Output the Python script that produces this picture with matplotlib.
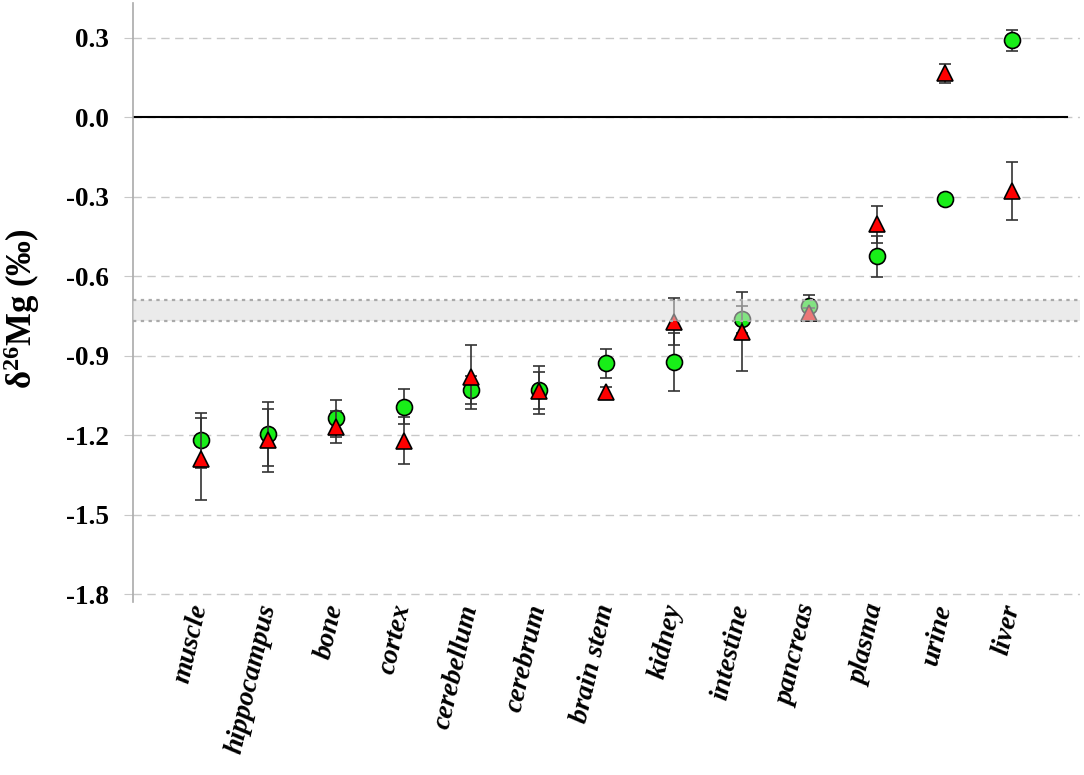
import matplotlib
matplotlib.use("Agg")
import matplotlib.pyplot as plt

plt.rcParams['font.family'] = ['Liberation Serif', 'DejaVu Serif']
plt.rcParams['mathtext.default'] = 'regular'

tissues = ['muscle', 'hippocampus', 'bone', 'cortex', 'cerebellum', 'cerebrum',
           'brain stem', 'kidney', 'intestine', 'pancreas', 'plasma', 'urine', 'liver']
green_vals = [-1.22, -1.195, -1.137, -1.093, -1.03, -1.03, -0.929, -0.923, -0.763, -0.713, -0.525, -0.309, 0.29]
green_err = [0.105, 0.12, 0.07, 0.065, 0.053, 0.09, 0.055, 0.11, 0.05, 0.04, 0.077, 0.01, 0.04]
red_vals = [-1.29, -1.22, -1.171, -1.221, -0.982, -1.033, -1.037, -0.772, -0.81, -0.741, -0.404, 0.165, -0.278]
red_err = [0.155, 0.12, 0.06, 0.09, 0.12, 0.07, 0.02, 0.09, 0.15, 0.02, 0.07, 0.035, 0.11]
band = (-0.77, -0.69)
yticks = [0.3, 0.0, -0.3, -0.6, -0.9, -1.2, -1.5, -1.8]

fig = plt.figure(figsize=(10.84, 7.75), dpi=100)
ax = fig.add_axes([0.1227, 0.2232, 0.8736, 0.7728])

x = list(range(len(tissues)))

ax.errorbar(x, green_vals, yerr=green_err, fmt='o', ms=11.5, mfc='#18ee18', mec='black',
            mew=1.2, ecolor='#333333', elinewidth=1.2, capsize=4.5, capthick=1.2, zorder=3)
ax.errorbar(x, red_vals, yerr=red_err, fmt='^', ms=12, mfc='#ff0000', mec='black',
            mew=1.2, ecolor='#333333', elinewidth=1.2, capsize=4.5, capthick=1.2, zorder=4)

# reference band drawn over the points (fades them)
ax.axhspan(band[0], band[1], color='#dbdbdb', alpha=0.55, lw=0, zorder=5)
for b in band:
    ax.axhline(b, color='#aaaaaa', ls=(0, (1.5, 2)), lw=1.6, zorder=5)

ax.axhline(0, xmin=0, xmax=0.986, color='black', lw=1.5, zorder=2)

ax.set_xlim(-1, 13)
ax.set_ylim(-1.83, 0.43)
ax.set_yticks(yticks)
ax.set_yticklabels([f'{v:.1f}' for v in yticks], fontsize=19.5, fontweight='bold')
ax.yaxis.grid(True, color='#c8c8c8', ls=(0, (6, 4)), lw=1)
ax.set_axisbelow(True)

ax.set_xticks(x)
ax.set_xticklabels(tissues, rotation=77, ha='right', va='center', rotation_mode='anchor',
                   fontsize=20, fontweight='bold', fontstyle='italic')
ax.tick_params(axis='x', length=0, pad=2)
ax.tick_params(axis='y', length=6.5, color='#c8c8c8', pad=11)

for s in ['top', 'right', 'bottom']:
    ax.spines[s].set_visible(False)
ax.spines['left'].set_color('#aaaaaa')
ax.spines['left'].set_linewidth(1.2)

ax.set_ylabel(r'δ$^{26}$Mg (‰)', fontsize=25, fontweight='bold')
ax.yaxis.set_label_coords(-0.096, 0.49)

fig.savefig('out.png', dpi=100)
